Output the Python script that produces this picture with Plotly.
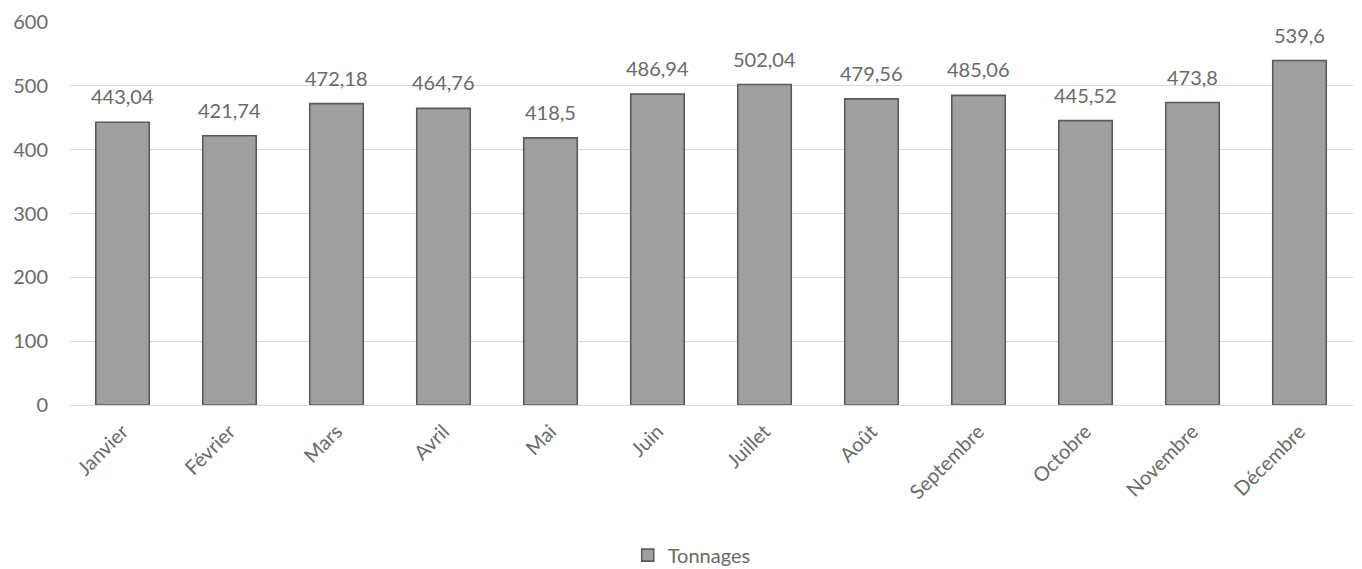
import plotly.graph_objects as go

months = ["Janvier", "Février", "Mars", "Avril", "Mai", "Juin", "Juillet",
          "Août", "Septembre", "Octobre", "Novembre", "Décembre"]
tonnages = [443.04, 421.74, 472.18, 464.76, 418.5, 486.94, 502.04,
            479.56, 485.06, 445.52, 473.8, 539.6]
y_ticks = [0, 100, 200, 300, 400, 500, 600]

labels = [str(v).replace(".", ",") for v in tonnages]

FONT = "Lato, 'Open Sans', sans-serif"
TXT = "#6a6a6a"

fig = go.Figure()
fig.add_trace(go.Bar(
    x=months, y=tonnages, name="Tonnages",
    marker=dict(color="#a0a0a0", line=dict(color="#5a5a5a", width=1.6)),
))

for m, v, lab in zip(months, tonnages, labels):
    fig.add_annotation(x=m, y=v, text=lab, showarrow=False, yanchor="bottom",
                       yshift=12, font=dict(family=FONT, size=20, color=TXT))

fig.update_layout(
    width=1362, height=569,
    margin=dict(l=61, r=17, t=14, b=172, autoexpand=False),
    paper_bgcolor="white", plot_bgcolor="white",
    bargap=0.5,
    showlegend=True,
    legend=dict(orientation="h", x=0.485, xanchor="center", y=-0.392, yanchor="middle",
                font=dict(family=FONT, size=20, color=TXT)),
    font=dict(family=FONT, color=TXT),
    xaxis=dict(tickangle=-45, tickfont=dict(family=FONT, size=20, color=TXT),
               showgrid=False, showline=False, ticks="", automargin=False,
               ticklabelstandoff=10),
    yaxis=dict(range=[0, 600], tickvals=y_ticks, showgrid=True, gridcolor="#d9d9d9",
               gridwidth=1.3, zeroline=True, zerolinecolor="#d9d9d9", zerolinewidth=1.3,
               tickfont=dict(family=FONT, size=20, color=TXT), ticklabelstandoff=20,
               showline=False, ticks="", automargin=False),
)

fig.write_html("out.html")
